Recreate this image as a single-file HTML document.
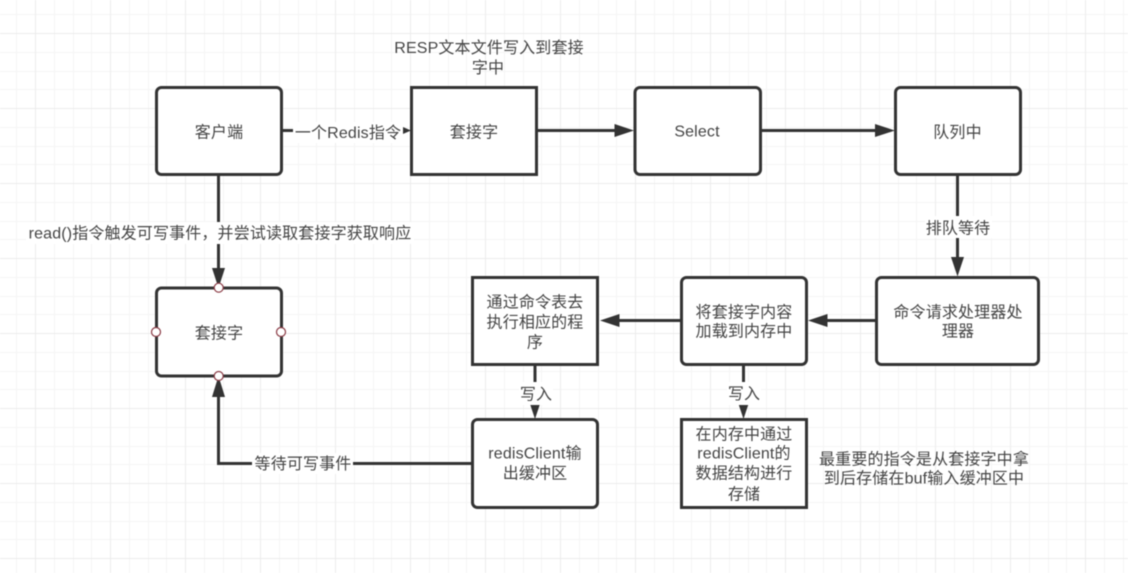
<!DOCTYPE html>
<html><head><meta charset="utf-8">
<style>
html,body{margin:0;padding:0;background:#fff;width:1128px;height:573px;overflow:hidden}
svg{display:block;filter:blur(.4px)}
text{font-family:"Liberation Sans","Noto Sans CJK SC",sans-serif;font-size:16px;fill:#444;text-anchor:middle;letter-spacing:.15px}
.b{fill:#fff;stroke:#333;stroke-width:3}
.l{fill:none;stroke:#333;stroke-width:3}
.h{fill:#333}
.w{fill:#fff}
.c{fill:#fff;stroke:#8a3a44;stroke-width:1.2}
</style></head><body>
<svg xmlns="http://www.w3.org/2000/svg" width="1128" height="573" viewBox="0 0 1128 573">
<defs>
<pattern id="g" width="75" height="75" patternUnits="userSpaceOnUse" x="35" y="33">
<path d="M0 19.500H75M0 38.500H75M0 56.500H75M19.500 0V75M38.500 0V75M56.500 0V75" fill="none" stroke="#f5f5f5" stroke-width="1"/>
<path d="M0 .5H75M.5 0V75" fill="none" stroke="#ececec" stroke-width="1"/>
</pattern>
</defs>
<rect width="1128" height="573" fill="#fff"/>
<rect width="1128" height="573" fill="url(#g)"/>

<!-- connectors -->
<path class="l" d="M282 130.500H404"/><path class="h" d="M411 130.500L396 124V137Z"/>
<path class="l" d="M537 130.500H618"/><path class="h" d="M634 130.500L614.500 124V137Z"/>
<path class="l" d="M761 130.500H878"/><path class="h" d="M895 130.500L875 124V137Z"/>
<path class="l" d="M218.500 175V270"/><path class="h" d="M218.500 288L212 268H225Z"/>
<path class="l" d="M957.500 175V260"/><path class="h" d="M957.500 276.500L951 257H964Z"/>
<path class="l" d="M876 320.500H825"/><path class="h" d="M808 320.500L827.500 314V327Z"/>
<path class="l" d="M681 320.500H617"/><path class="h" d="M600 320.500L619.500 314V327Z"/>
<path class="l" d="M535 365V402"/><path class="h" d="M535 419L528.500 399.500H541.500Z"/>
<path class="l" d="M743.500 365V402"/><path class="h" d="M743.500 419L737 399.500H750Z"/>
<path class="l" d="M472 463.500H218.500V394"/><path class="h" d="M218.500 376L212 397H225Z"/>

<!-- label backgrounds -->
<rect class="w" x="293" y="122" width="110" height="21"/>
<rect class="w" x="26" y="222" width="388" height="22"/>
<rect class="w" x="925" y="216" width="67" height="22"/>
<rect class="w" x="519" y="382" width="34" height="23"/>
<rect class="w" x="727" y="382" width="34" height="23"/>
<rect class="w" x="252" y="453" width="101" height="21"/>

<!-- boxes -->
<rect class="b" x="156.500" y="87.500" width="125" height="87" rx="5"/>
<rect class="b" x="411.500" y="87.500" width="125" height="87"/>
<rect class="b" x="635" y="87.500" width="125.500" height="87" rx="5"/>
<rect class="b" x="895.500" y="87.500" width="125" height="87" rx="5"/>
<rect class="b" x="156.500" y="288" width="125" height="88" rx="5"/>
<rect class="b" x="472.500" y="277.500" width="125" height="87"/>
<rect class="b" x="681.500" y="277.500" width="125" height="87" rx="5"/>
<rect class="b" x="876.500" y="277.500" width="162" height="87" rx="5"/>
<rect class="b" x="472.500" y="419.500" width="125" height="88" rx="5"/>
<rect class="b" x="681.500" y="419.500" width="125" height="88"/>

<!-- handles -->
<circle class="c" cx="218.700" cy="287.700" r="4.500"/>
<circle class="c" cx="218.700" cy="376" r="4.500"/>
<circle class="c" cx="156" cy="332" r="4.500"/>
<circle class="c" cx="281" cy="332" r="4.500"/>

<!-- text -->
<text x="489" y="53">RESP文本文件写入到套接</text>
<text x="488" y="73">字中</text>
<text x="219" y="137.500">客户端</text>
<text x="474" y="137.500">套接字</text>
<text x="697" y="136.500">Select</text>
<text x="957.500" y="137.500">队列中</text>
<text x="348" y="138">一个Redis指令</text>
<text x="220" y="238.500">read()指令触发可写事件，并尝试读取套接字获取响应</text>
<text x="958" y="233.500">排队等待</text>
<text x="219" y="338.500">套接字</text>
<text x="535" y="307.500">通过命令表去</text>
<text x="535" y="327.500">执行相应的程</text>
<text x="535" y="347.500">序</text>
<text x="744" y="317.500">将套接字内容</text>
<text x="744" y="336.500">加载到内存中</text>
<text x="958" y="317.500">命令请求处理器处</text>
<text x="958" y="336.500">理器</text>
<text x="536" y="399.500">写入</text>
<text x="744" y="399">写入</text>
<text x="303" y="469">等待可写事件</text>
<text x="535" y="458.500">redisClient输</text>
<text x="535" y="478.500">出缓冲区</text>
<text x="744" y="439.500">在内存中通过</text>
<text x="744" y="458.500">redisClient的</text>
<text x="744" y="478.500">数据结构进行</text>
<text x="744" y="499.500">存储</text>
<text x="924" y="464.500">最重要的指令是从套接字中拿</text>
<text x="924" y="483.500">到后存储在buf输入缓冲区中</text>
</svg>
</body></html>
